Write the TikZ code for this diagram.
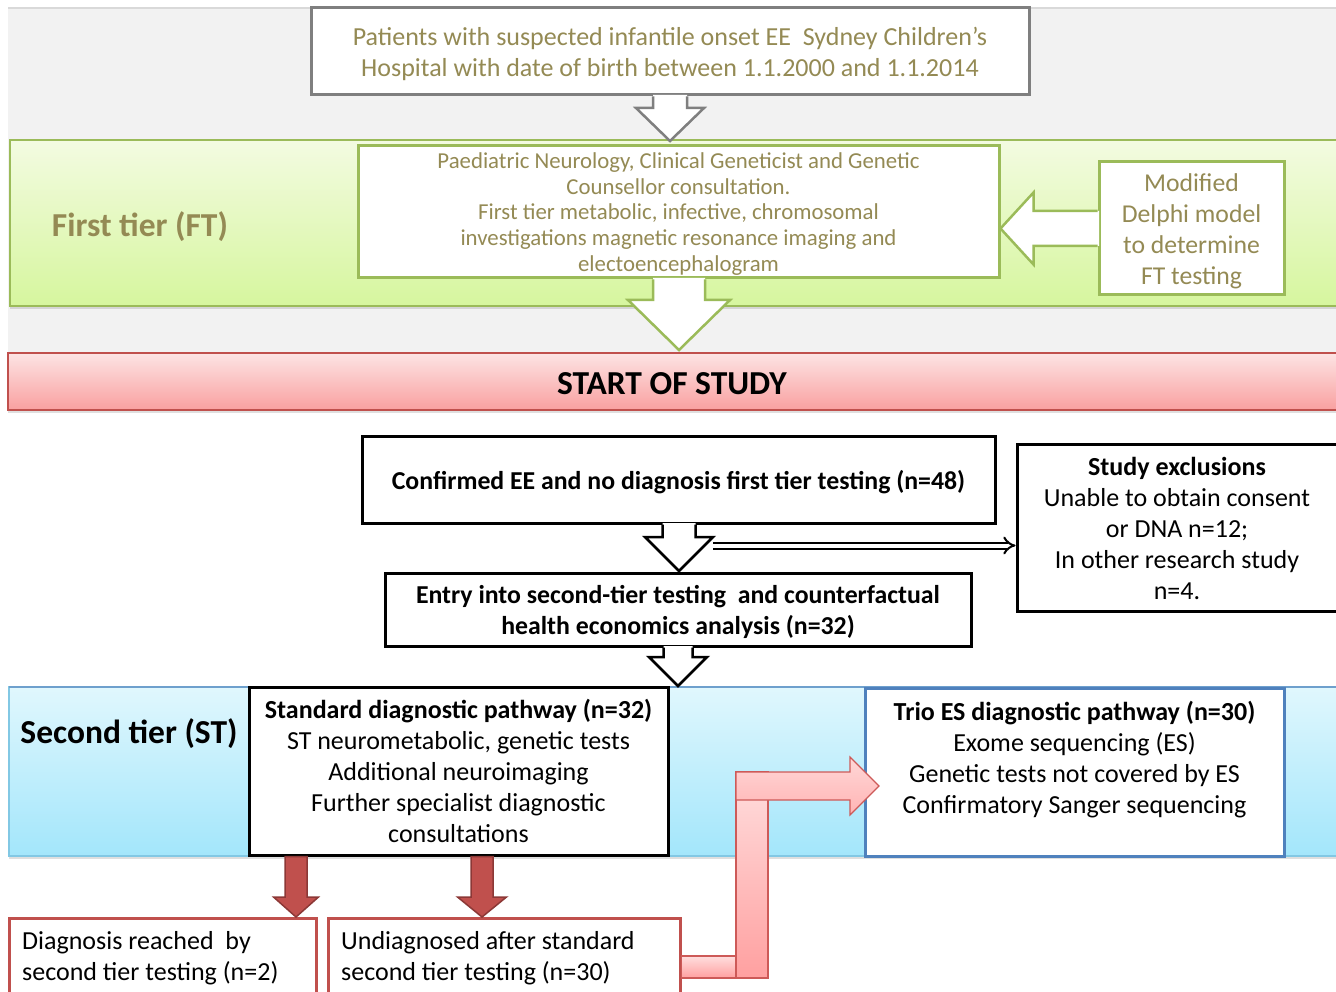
\documentclass[tikz,border=0pt]{standalone}
\usepackage{fontspec}
\setmainfont{Carlito}
\usetikzlibrary{calc,arrows.meta,shadows}
\definecolor{olivetxt}{HTML}{948A54}
\definecolor{gborder}{HTML}{9BBB59}
\definecolor{rborder}{HTML}{C0504D}
\definecolor{rdark}{HTML}{8C3836}
\definecolor{bborder}{HTML}{4F81BD}
\definecolor{greyb}{HTML}{7F7F7F}
\definecolor{greybg}{HTML}{F2F2F2}
\definecolor{greyline}{HTML}{D9D9D9}
\definecolor{gtop}{HTML}{F3FBE1}
\definecolor{gbot}{HTML}{D6F69E}
\definecolor{ptop}{HTML}{FDE4E4}
\definecolor{pbot}{HTML}{F9A0A0}
\definecolor{btop}{HTML}{E0F7FD}
\definecolor{bbot}{HTML}{A3E6FB}
\definecolor{bband}{HTML}{82C8E4}
\definecolor{bbandtop}{HTML}{6EA0CD}
\definecolor{pkline}{HTML}{CD5A58}
\definecolor{pktop}{HTML}{FFDEDE}
\definecolor{pkbot}{HTML}{FFA0A0}
\definecolor{pkatop}{HTML}{FFD7D7}
\definecolor{pkabot}{HTML}{FFB4B4}
% vertical block arrow: #1 draw style, #2 from, #3 tip, #4 shaft half, #5 head half, #6 head length, #7 fill
\newcommand{\vblockarrow}[7]{%
  \fill[#7] let \p1=(#2), \p2=(#3) in (\x2-#4,\y1+1.5pt) -- (\x2-#4,\y2+#6) -- (\x2-#5,\y2+#6) -- (\x2,\y2) -- (\x2+#5,\y2+#6) -- (\x2+#4,\y2+#6) -- (\x2+#4,\y1+1.5pt) -- cycle;
  \draw[#1] let \p1=(#2), \p2=(#3) in (\x2-#4,\y1) -- (\x2-#4,\y2+#6) -- (\x2-#5,\y2+#6) -- (\x2,\y2) -- (\x2+#5,\y2+#6) -- (\x2+#4,\y2+#6) -- (\x2+#4,\y1);}
% horizontal block arrow pointing left
\newcommand{\hblockarrow}[7]{%
  \fill[#7] let \p1=(#2), \p2=(#3) in (\x1+1.5pt,\y2+#4) -- (\x2+#6,\y2+#4) -- (\x2+#6,\y2+#5) -- (\x2,\y2) -- (\x2+#6,\y2-#5) -- (\x2+#6,\y2-#4) -- (\x1+1.5pt,\y2-#4) -- cycle;
  \draw[#1] let \p1=(#2), \p2=(#3) in (\x1,\y2+#4) -- (\x2+#6,\y2+#4) -- (\x2+#6,\y2+#5) -- (\x2,\y2) -- (\x2+#6,\y2-#5) -- (\x2+#6,\y2-#4) -- (\x1,\y2-#4);}
\begin{document}
\begin{tikzpicture}[x=1pt,y=-1pt,
  boxbase/.style={rectangle, line width=3pt, fill=white, inner sep=0pt},
  txt/.style={font=\fontsize{26}{31}\selectfont, align=center, inner sep=0pt},
  greybox/.style={boxbase, draw=greyb},
  greenbox/.style={boxbase, draw=gborder},
  blackbox/.style={boxbase, draw=black},
  bluebox/.style={boxbase, draw=bborder},
  redbox/.style={boxbase, draw=rborder, line width=2.5pt, anchor=north west},
  bandtxt/.style={font=\fontsize{33.5}{38}\selectfont\bfseries},
  band/.style={drop shadow={shadow xshift=0pt, shadow yshift=-3pt, opacity=0.25}},
  hollowline/.style={line width=2.5pt, line join=miter},
  redarrow/.style={draw=rdark, line width=1.5pt, fill=rborder},
  pinkpart/.style={draw=pkline, line width=1.2pt, top color=pktop, bottom color=pkbot},
]
\useasboundingbox (0,0) rectangle (1336,992);
\clip (0,0) rectangle (1336,992);
\fill[white] (0,0) rectangle (1336,992);

% ---------- bands ----------
\fill[greybg] (8,8) rectangle (1340,352);
\draw[line width=1.5pt, greyline] (8,8) -- (1340,8);
\path[band, draw=gborder, line width=1.5pt, top color=gtop, bottom color=gbot] (10,140) rectangle (1345,306);
\path[band, draw=rborder, line width=1.2pt, top color=ptop, bottom color=pbot] (8,353) rectangle (1345,410);
\path[band, draw=bband, line width=1.2pt, top color=btop, bottom color=bbot] (9,687) rectangle (1345,856);
\draw[line width=1.5pt, bbandtop] (9,687) -- (1345,687);

\node[bandtxt, text=olivetxt] (ftlabel) at (140,227) {First tier (FT)};
\node[font=\fontsize{33.5}{38}\selectfont\bfseries] (start) at (672,384) {START OF STUDY};
\node[bandtxt] (stlabel) at (129,734) {Second tier (ST)};

% ---------- boxes ----------
\node[greybox, minimum width=718pt, minimum height=87pt] (top) at (670,51.5) {};
\node[txt, text=olivetxt] (toptxt) at ([yshift=-2pt]top.center)
  {Patients with suspected infantile onset EE\ \ Sydney Children’s\\Hospital with date of birth between 1.1.2000 and 1.1.2014};
\node[greenbox, minimum width=641pt, minimum height=132pt] (ft) at (678.5,212) {};
\node[txt, text=olivetxt, font=\fontsize{22.8}{25.7}\selectfont] (fttxt) at ([yshift=-2pt]ft.center)
  {Paediatric Neurology, Clinical Geneticist and Genetic\\Counsellor consultation.\\First tier metabolic, infective, chromosomal\\investigations magnetic resonance imaging and\\electoencephalogram};
\node[greenbox, minimum width=185pt, minimum height=133pt] (delphi) at (1191.5,228.5) {};
\node[txt, text=olivetxt, font=\fontsize{25.7}{31}\selectfont] (delphitxt) at ([yshift=-3pt]delphi.center)
  {Modified\\Delphi model\\to determine\\FT testing};

\node[blackbox, minimum width=633pt, minimum height=87pt] (confirmed) at (678.5,479.5) {};
\node[txt, font=\fontsize{25.8}{31}\selectfont\bfseries] (confirmedtxt) at ([yshift=-3pt]confirmed.center)
  {Confirmed EE and no diagnosis first tier testing (n=48)};
\node[blackbox, minimum width=324pt, minimum height=167pt] (excl) at (1179,527.5) {};
\node[txt] (excltxt) at (1177,528)
  {\textbf{Study exclusions}\\Unable to obtain consent\\or DNA n=12;\\In other research study\\n=4.};
\node[blackbox, minimum width=586pt, minimum height=73pt] (entry) at (678,609.5) {};
\node[txt, font=\fontsize{25.8}{31}\selectfont\bfseries] (entrytxt) at ([yshift=-2pt]entry.center)
  {Entry into second-tier testing\ \ and counterfactual\\health economics analysis (n=32)};

\node[blackbox, minimum width=419pt, minimum height=168pt] (standard) at (458.5,771) {};
\node[txt] (standardtxt) at (standard.center)
  {\textbf{Standard diagnostic pathway (n=32)}\\ST neurometabolic, genetic tests\\Additional neuroimaging\\Further specialist diagnostic\\consultations};
\node[bluebox, minimum width=419pt, minimum height=168pt] (trio) at (1074.5,772) {};
\node[txt] (triotxt) at ([yshift=12.5pt]trio.center)
  {\textbf{Trio ES diagnostic pathway (n=30)}\\Exome sequencing (ES)\\Genetic tests not covered by ES\\Confirmatory Sanger sequencing};

\node[redbox, minimum width=307pt, minimum height=90pt] (diag) at (8,917) {};
\node[txt, align=flush left, anchor=west] (diagtxt) at (22,958.5)
  {Diagnosis reached\ \ by\\second tier testing (n=2)};
\node[redbox, minimum width=352pt, minimum height=90pt] (undiag) at (327,917) {};
\node[txt, align=flush left, anchor=west] (undiagtxt) at (341,958.5)
  {Undiagnosed after standard\\second tier testing (n=30)};

% ---------- connectors ----------
\coordinate (t1) at (670,141);
\vblockarrow{hollowline, draw=greyb}{top.south}{t1}{17pt}{34pt}{33pt}{white}
\coordinate (t2) at (679,350);
\vblockarrow{hollowline, draw=gborder}{ft.south}{t2}{26pt}{51pt}{50pt}{white}
\hblockarrow{hollowline, draw=gborder}{delphi.west}{ft.east |- delphi.west}{17.5pt}{36pt}{33pt}{white}
\coordinate (t3) at (679,571);
\vblockarrow{hollowline, draw=black}{confirmed.south}{t3}{16.5pt}{34pt}{34pt}{white}
\coordinate (t4) at (678,686);
\vblockarrow{hollowline, draw=black}{entry.south}{t4}{14.5pt}{29pt}{29pt}{white}

\coordinate (dstart) at (713,545.5);
\draw[double=white, double distance=4pt, line width=2pt, -{Implies[length=6pt]}] (dstart) -- (dstart -| excl.west);

% red arrows
\coordinate (r1) at (296,917);
\coordinate (r2) at (482,917);
\path[redarrow] let \p1=(standard.south -| r1), \p2=(r1) in (\x2-11pt,\y1) -- (\x2-11pt,\y2+20pt) -- (\x2-22.5pt,\y2+20pt) -- (\x2,\y2) -- (\x2+22.5pt,\y2+20pt) -- (\x2+11pt,\y2+20pt) -- (\x2+11pt,\y1) -- cycle;
\path[redarrow] let \p1=(standard.south -| r2), \p2=(r2) in (\x2-11pt,\y1) -- (\x2-11pt,\y2+20pt) -- (\x2-24.5pt,\y2+20pt) -- (\x2,\y2) -- (\x2+24.5pt,\y2+20pt) -- (\x2+11pt,\y2+20pt) -- (\x2+11pt,\y1) -- cycle;

% pink bent arrow from undiag to trio
\coordinate (ptip) at (879,786);
\path[pinkpart] (undiag.east |- 0,956) rectangle (738,978);
\path[pinkpart] (736,772) rectangle (768,978);
\path[pinkpart, top color=pkatop, bottom color=pkabot]
  (736,772) -- (850,772) -- (850,757) -- (ptip) -- (850,815) -- (850,800) -- (736,800) -- cycle;
\end{tikzpicture}
\end{document}
